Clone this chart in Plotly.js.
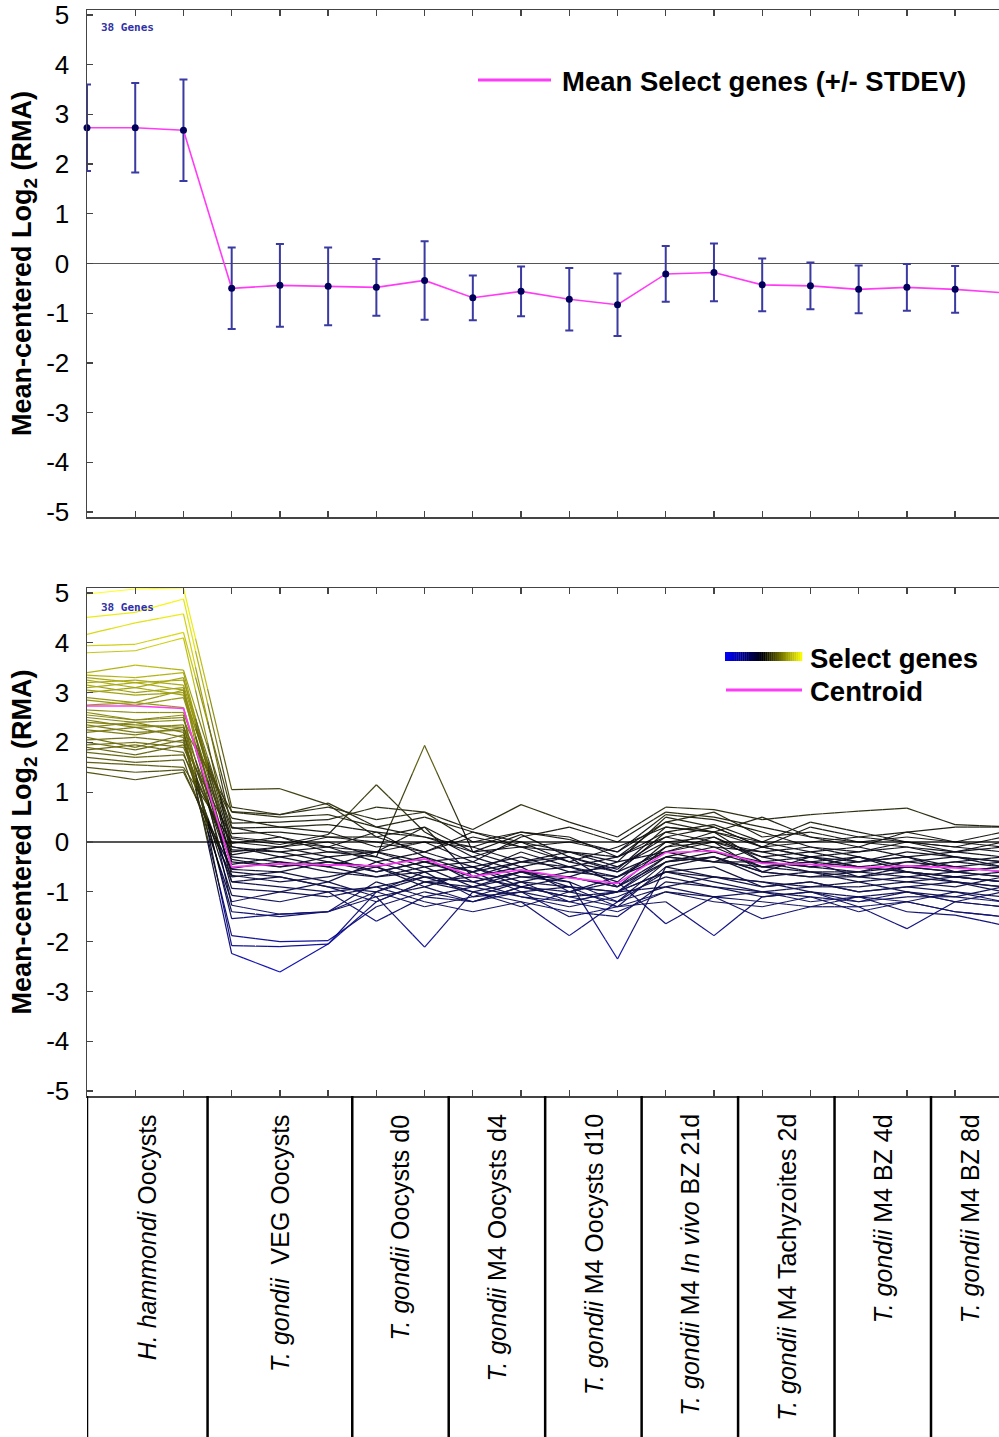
<!DOCTYPE html>
<html>
<head>
<meta charset="utf-8">
<script src="https://cdn.plot.ly/plotly-3.0.1.min.js"></script>
<style>
html,body{margin:0;padding:0;background:#ffffff;}
#chart{width:999px;height:1437px;}
</style>
</head>
<body>
<div id="chart"></div>
<script>
// ---------------- DATA ----------------
const sampleIndex = [0,1,2,3,4,5,6,7,8,9,10,11,12,13,14,15,16,17,18,19];

const groupLabels = [
  "<i>H. hammondi</i> Oocysts",
  "<i>T. gondii</i>\u00a0 VEG Oocysts",
  "<i>T. gondii</i> Oocysts d0",
  "<i>T. gondii</i> M4 Oocysts d4",
  "<i>T. gondii</i> M4 Oocysts d10",
  "<i>T. gondii</i> M4 <i>In vivo</i> BZ 21d",
  "<i>T. gondii</i> M4 Tachyzoites 2d",
  "<i>T. gondii</i> M4 BZ 4d",
  "<i>T. gondii</i> M4 BZ 8d"
];
const groupSizes = [3,3,2,2,2,2,2,2,2];

const meanValues  = [2.73, 2.73, 2.68, -0.50, -0.44, -0.46, -0.48, -0.34, -0.69, -0.56,
                     -0.72, -0.83, -0.21, -0.18, -0.43, -0.45, -0.52, -0.48, -0.52, -0.59];
const stdevValues = [0.87, 0.90, 1.02, 0.82, 0.83, 0.78, 0.57, 0.79, 0.45, 0.50,
                     0.63, 0.63, 0.56, 0.58, 0.53, 0.47, 0.48, 0.47, 0.47, 0.45];

const gene01 = [4.98,5.08,5.10, 1.05,1.07,0.75, 0.10,0.30, -0.20,0.15, -0.30,-0.55, 0.30,0.20, -0.10,0.00, 0.10,0.20, 0.30,0.30];
const gene02 = [4.51,4.61,4.88, 0.70,0.55,0.70, 0.45,0.60, 0.25,0.75, 0.40,0.10, 0.70,0.65, 0.45,0.55, 0.62,0.68, 0.35,0.31];
const gene03 = [4.17,4.40,4.58, 0.30,0.10,-0.10, 0.20,-0.30, -0.60,-0.20, -0.50,-0.80, 0.00,0.10, -0.30,-0.50, -0.40,-0.30, -0.60,-0.70];
const gene04 = [3.94,3.97,4.21, 0.60,0.50,0.55, 0.30,0.10, -0.10,-0.40, -0.20,-0.30, 0.20,0.00, -0.20,-0.10, -0.30,-0.50, -0.40,-0.50];
const gene05 = [3.80,3.84,4.10, -0.10,-0.20,-0.40, -0.50,-0.30, -0.80,-0.60, -0.90,-1.00, -0.40,-0.30, -0.60,-0.70, -0.70,-0.60, -0.80,-0.90];
const gene06 = [3.40,3.55,3.45, 0.38,0.40,0.45, 0.70,0.60, 0.00,0.20, 0.05,-0.20, 0.55,0.45, 0.20,-0.10, -0.20,0.00, -0.10,-0.20];
const gene07 = [3.35,3.30,3.40, -0.26,-0.10,0.00, -0.30,-0.60, -0.50,-0.90, -0.70,-0.40, -0.20,0.00, -0.60,-0.30, -0.50,-0.60, -0.70,-0.80];
const gene08 = [3.30,3.20,3.25, 0.17,0.20,0.10, 0.00,-0.20, 0.10,-0.10, -0.20,-0.50, 0.10,0.30, -0.10,-0.30, -0.40,-0.20, -0.30,-0.40];
const gene09 = [3.25,3.10,3.30, -0.40,-0.50,-0.30, -0.60,-0.40, -0.70,-0.50, -1.00,-0.70, -0.30,-0.10, -0.50,-0.60, -0.80,-0.70, -0.60,-0.50];
const gene10 = [3.20,3.25,3.15, 0.07,-0.05,0.15, 1.15,0.20, -0.30,0.00, -0.40,-0.60, 0.20,0.35, 0.00,-0.20, -0.10,-0.30, -0.20,-0.30];
const gene11 = [3.15,3.00,3.10, -0.80,-0.70,-0.90, -1.00,-0.60, -1.10,-0.80, -1.20,-1.00, -0.60,-0.50, -0.90,-0.80, -1.00,-0.90, -0.80,-1.00];
const gene12 = [3.10,3.20,3.05, -0.03,0.10,-0.20, -0.30,1.94, -0.20,-0.50, -0.30,-0.90, -0.10,0.20, -0.40,-0.50, -0.60,-0.40, -0.50,-0.60];
const gene13 = [3.05,2.95,3.00, -0.53,-0.40,-0.60, -0.70,-0.50, -0.90,-0.60, -0.80,-1.20, -0.40,-0.20, -0.50,-0.40, -0.70,-0.80, -0.90,-0.70];
const gene14 = [3.00,3.10,2.95, 0.28,0.30,0.20, -0.10,0.00, -0.40,0.10, 0.30,0.00, 0.60,0.50, 0.30,0.10, 0.00,-0.10, -0.20,-0.10];
const gene15 = [2.90,2.80,3.05, -1.27,-1.45,-1.40, -0.80,-1.10, -0.90,-1.10, -1.30,-1.10, -0.70,-0.90, -1.00,-1.20, -1.10,-1.00, -1.20,-1.30];
const gene16 = [2.85,2.75,2.90, -0.16,-0.20,-0.10, -0.40,-0.20, -0.50,-0.30, -0.60,-0.70, -0.20,0.10, -0.40,-0.30, -0.50,-0.40, -0.30,-0.50];
const gene17 = [2.75,2.80,2.70, -0.67,-0.80,-0.70, -0.50,-0.90, -0.60,-1.00, -0.90,-1.30, -0.50,-0.30, -0.70,-0.60, -0.60,-0.70, -0.80,-0.90];
const gene18 = [2.65,2.60,2.60, -0.09,-0.30,-0.20, -0.20,0.30, -0.70,-0.40, -0.50,-0.30, 0.10,-0.10, -0.20,-0.40, -0.30,-0.50, -0.40,-0.30];
const gene19 = [2.60,2.45,2.55, -2.08,-2.10,-2.05, -1.20,-0.80, -1.00,-1.20, -1.40,-1.50, -0.80,-0.90, -1.10,-1.00, -1.20,-1.10, -1.10,-1.20];
const gene20 = [2.55,2.45,2.50, -0.93,-1.00,-0.80, -1.10,-2.11, -1.00,-1.30, -1.00,-1.20, -0.60,-0.80, -1.00,-0.90, -0.80,-1.00, -1.10,-0.90];
const gene21 = [2.50,2.40,2.45, 0.48,0.30,0.35, 0.20,0.10, -0.20,-0.10, 0.00,-0.20, 0.40,0.60, 0.10,0.20, 0.00,0.10, 0.00,-0.10];
const gene22 = [2.45,2.30,2.35, -1.54,-1.45,-1.40, -1.10,-0.90, -1.20,-1.00, -1.50,-1.30, -1.00,-1.10, -1.20,-1.30, -1.30,-1.20, -1.40,-1.50];
const gene23 = [2.40,2.35,2.30, -0.30,-0.40,-0.50, -0.20,-0.50, -0.40,-0.70, -0.70,-0.90, -0.30,-0.40, -0.40,-0.60, -0.70,-0.50, -0.60,-0.50];
const gene24 = [2.35,2.20,2.25, -2.24,-2.61,-2.05, -1.00,-0.70, -0.80,-1.10, -1.20,-1.00, -0.90,-0.70, -0.80,-1.00, -1.10,-1.20, -1.00,-1.10];
const gene25 = [2.30,2.40,2.20, -0.60,-0.70,-0.90, -1.20,-0.80, -0.90,-0.70, -0.80,-2.35, -0.50,-0.70, -0.90,-0.80, -1.00,-0.90, -1.00,-1.20];
const gene26 = [2.25,2.15,2.30, 0.61,0.55,0.78, 0.30,0.50, 0.20,-0.10, -0.40,-0.10, 0.30,0.20, 0.00,0.40, 0.20,0.00, -0.10,0.10];
const gene27 = [2.20,2.30,2.10, -1.40,-1.50,-1.40, -1.00,-1.30, -1.10,-1.00, -1.20,-1.40, -1.00,-1.20, -1.30,-1.10, -1.40,-1.20, -1.40,-1.50];
const gene28 = [2.10,1.90,2.15, -0.45,-0.30,-0.50, -0.70,-0.60, -0.50,-0.80, -0.60,-0.50, 0.00,-0.20, -0.40,-0.50, -0.30,-0.60, -0.70,-0.60];
const gene29 = [2.05,2.10,2.00, -1.07,-1.20,-1.00, -0.90,-1.20, -1.40,-1.20, -1.88,-1.20, -0.90,-1.10, -1.00,-1.10, -1.20,-1.00, -1.20,-1.30];
const gene30 = [2.00,1.85,2.05, -1.88,-2.00,-1.98, -1.30,-1.00, -1.20,-0.90, -1.10,-1.30, -1.20,-1.88, -1.10,-1.00, -1.30,-1.74, -1.20,-1.00];
const gene31 = [1.95,2.00,1.90, -0.35,-0.50,-0.40, -0.60,-0.40, -0.30,-0.60, -0.50,-0.70, -0.10,0.00, -0.30,-0.20, -0.40,-0.30, -0.50,-0.40];
const gene32 = [1.90,1.75,1.95, 0.10,0.00,-0.10, -0.20,0.00, -0.10,0.20, 0.10,-0.30, 0.40,0.20, 0.50,0.10, -0.10,0.20, 0.00,0.20];
const gene33 = [1.85,1.95,1.80, -0.80,-0.90,-1.00, -1.59,-1.10, -1.20,-0.90, -1.00,-0.80, -1.64,-1.10, -1.54,-1.30, -1.10,-1.40, -1.47,-1.67];
const gene34 = [1.80,1.70,1.75, -0.20,-0.10,-0.30, -0.20,-0.40, -0.60,-0.40, -0.30,-0.60, -0.20,-0.40, -0.10,-0.30, -0.20,-0.10, -0.30,-0.40];
const gene35 = [1.70,1.60,1.65, -1.20,-1.00,-1.10, -0.90,-0.70, -1.00,-0.80, -0.90,-1.00, -0.60,-0.70, -0.80,-0.90, -0.90,-0.80, -0.70,-0.80];
const gene36 = [1.60,1.55,1.50, 0.00,-0.10,0.10, 0.10,-0.20, 0.20,0.00, -0.20,-0.40, 0.50,0.30, -0.10,0.30, 0.10,0.00, -0.20,0.00];
const gene37 = [1.50,1.40,1.45, -0.70,-0.60,-0.80, -0.40,-0.70, -0.80,-0.60, -0.70,-0.90, -0.40,-0.30, -0.60,-0.70, -0.60,-0.50, -0.60,-0.70];
const gene38 = [1.40,1.25,1.40, -0.55,-0.60,-0.40, -0.50,-0.80, -0.70,-0.90, -1.10,-1.00, -0.30,-0.40, -0.50,-0.40, -0.50,-0.60, -0.70,-0.80];

const yTickVals = [-5,-4,-3,-2,-1,0,1,2,3,4,5];
const yTickText = ["-5","-4","-3","-2","-1","0","1","2","3","4","5"];

const genes = [gene01,gene02,gene03,gene04,gene05,gene06,gene07,gene08,gene09,gene10,
               gene11,gene12,gene13,gene14,gene15,gene16,gene17,gene18,gene19,gene20,
               gene21,gene22,gene23,gene24,gene25,gene26,gene27,gene28,gene29,gene30,
               gene31,gene32,gene33,gene34,gene35,gene36,gene37,gene38];

// ---------------- STYLE / LAYOUT HELPERS ----------------
const W = 999, H = 1437;
const M = {l: 87, r: 0, t: 10, b: 341};
const plotW = W - M.l - M.r, plotH = H - M.t - M.b;
const px = v => (v - M.l) / plotW;          // pixel x -> paper x
const py = v => (H - M.b - v) / plotH;      // pixel y -> paper y
const xRange = [0, 18.91];
const yRange = [-5.1, 5.1];
const FONT = "Liberation Sans, Arial, Helvetica, sans-serif";
const MAGENTA = "#ff3cf5";

function valueColor(v) {
  if (v >= 0) {
    const c = Math.round(255 * Math.min(v / 5, 1));
    return "rgb(" + c + "," + c + ",0)";
  }
  const c = Math.round(255 * Math.min(-v / 3.5, 1));
  return "rgb(0,0," + c + ")";
}

// ---------------- TRACES ----------------
const traces = [];

// Top panel: mean +/- stdev
traces.push({
  type: "scatter", mode: "lines+markers", xaxis: "x", yaxis: "y",
  x: sampleIndex, y: meanValues, cliponaxis: false,
  line: {color: MAGENTA, width: 1.6},
  marker: {color: "#00005a", size: 7, symbol: "circle"},
  error_y: {type: "data", array: stdevValues, visible: true, color: "#3a3aa2", thickness: 2, width: 4},
  hoverinfo: "skip", showlegend: false
});

// Bottom panel: gene lines coloured by value (segments grouped into colour bins)
const bins = {};
const SUB = 4;
genes.forEach(g => {
  for (let i = 0; i < g.length - 1; i++) {
    for (let j = 0; j < SUB; j++) {
      const t0 = j / SUB, t1 = (j + 1) / SUB;
      const xa = sampleIndex[i] + (sampleIndex[i+1] - sampleIndex[i]) * t0;
      const xb = sampleIndex[i] + (sampleIndex[i+1] - sampleIndex[i]) * t1;
      const ya = g[i] + (g[i+1] - g[i]) * t0;
      const yb = g[i] + (g[i+1] - g[i]) * t1;
      const key = Math.round(((ya + yb) / 2) / 0.2) * 0.2;
      const k = key.toFixed(1);
      if (!bins[k]) bins[k] = {x: [], y: [], v: key};
      bins[k].x.push(xa, xb, null);
      bins[k].y.push(ya, yb, null);
    }
  }
});
Object.keys(bins).map(k => bins[k]).sort((a, b) => Math.abs(a.v) - Math.abs(b.v)).forEach(b => {
  traces.push({
    type: "scatter", mode: "lines", xaxis: "x2", yaxis: "y2",
    x: b.x, y: b.y, connectgaps: false,
    line: {color: valueColor(b.v), width: 1.2},
    opacity: 0.92, hoverinfo: "skip", showlegend: false
  });
});

// Centroid
traces.push({
  type: "scatter", mode: "lines", xaxis: "x2", yaxis: "y2",
  x: sampleIndex, y: meanValues,
  line: {color: MAGENTA, width: 1.6},
  hoverinfo: "skip", showlegend: false
});

// ---------------- AXES ----------------
const yTitle = {
  text: "Mean-centered Log<sub>2</sub> (RMA)",
  font: {family: FONT, size: 27, color: "#000", weight: "bold"},
  standoff: 6
};
function xAxis(anchor) {
  return {
    anchor: anchor, domain: [0, 1], range: xRange, fixedrange: true,
    tickmode: "array", tickvals: sampleIndex, showticklabels: false,
    ticks: "inside", ticklen: 6, tickwidth: 1.3, tickcolor: "#444",
    showline: true, linecolor: "#444", linewidth: 1.5, mirror: "ticks",
    showgrid: false, zeroline: false
  };
}
function yAxis(anchor, domain) {
  return {
    anchor: anchor, domain: domain, range: yRange, fixedrange: true,
    tickmode: "array", tickvals: yTickVals, ticktext: yTickText,
    ticks: "inside", ticklen: 6, tickwidth: 1.3, tickcolor: "#444",
    ticklabelstandoff: 11,
    tickfont: {family: FONT, size: 26, color: "#000"},
    showline: true, linecolor: "#444", linewidth: 1.5, mirror: false,
    showgrid: false, zeroline: true, zerolinecolor: "#555", zerolinewidth: 1.3,
    title: yTitle
  };
}

// ---------------- SHAPES & ANNOTATIONS ----------------
const shapes = [];
const annotations = [];

// group separators and labels below the lower panel
const bounds = [0];
let cum = 0;
groupSizes.forEach((n, i) => {
  cum += n;
  if (i < groupSizes.length - 1) bounds.push(sampleIndex[cum - 1] + 0.5);
});
bounds.forEach(b => {
  shapes.push({type: "line", xref: "x2", yref: "paper", x0: b, x1: b, y0: py(H + 5), y1: 0,
               line: {color: "#000", width: 2.5}});
});
groupLabels.forEach((lab, i) => {
  const left = bounds[i];
  const right = i < bounds.length - 1 ? bounds[i + 1] : xRange[1] + 0.2;
  annotations.push({
    xref: "x2", yref: "paper", x: (left + right) / 2, y: py(1112),
    xanchor: "center", yanchor: "top", textangle: -90, showarrow: false,
    text: lab, font: {family: FONT, size: 25, color: "#000"}
  });
});

// "38 Genes" notes
[27, 607].forEach(yy => {
  annotations.push({
    xref: "paper", yref: "paper", x: px(99), y: py(yy), xanchor: "left", yanchor: "middle",
    showarrow: false, text: genes.length + " Genes",
    font: {family: "DejaVu Sans Mono, monospace", size: 11, color: "#3030a8", weight: "bold"}
  });
});

// top legend
shapes.push({type: "line", xref: "paper", yref: "paper", x0: px(478), x1: px(551), y0: py(80), y1: py(80),
             line: {color: MAGENTA, width: 3}});
annotations.push({xref: "paper", yref: "paper", x: px(560), y: py(81), xanchor: "left", yanchor: "middle",
  showarrow: false, text: "Mean Select genes (+/- STDEV)",
  font: {family: FONT, size: 27.5, color: "#000", weight: "bold"}});

// bottom legend: gradient bar
const NSTEP = 40;
for (let i = 0; i < NSTEP; i++) {
  const v = -5 + 10 * (i + 0.5) / NSTEP;
  const c = v >= 0 ? Math.round(255 * v / 5) : Math.round(255 * -v / 5);
  const col = v >= 0 ? "rgb(" + c + "," + c + ",0)" : "rgb(0,0," + c + ")";
  const x0 = 725 + (802 - 725) * i / NSTEP, x1 = 725 + (802 - 725) * (i + 1) / NSTEP + 0.3;
  shapes.push({type: "rect", xref: "paper", yref: "paper", x0: px(x0), x1: px(x1), y0: py(661), y1: py(652),
               fillcolor: col, line: {width: 0}});
}
annotations.push({xref: "paper", yref: "paper", x: px(808), y: py(658), xanchor: "left", yanchor: "middle",
  showarrow: false, text: "Select genes",
  font: {family: FONT, size: 27.5, color: "#000", weight: "bold"}});
shapes.push({type: "line", xref: "paper", yref: "paper", x0: px(726), x1: px(802), y0: py(690), y1: py(690),
             line: {color: MAGENTA, width: 3}});
annotations.push({xref: "paper", yref: "paper", x: px(808), y: py(691), xanchor: "left", yanchor: "middle",
  showarrow: false, text: "Centroid",
  font: {family: FONT, size: 27.5, color: "#000", weight: "bold"}});

// ---------------- LAYOUT ----------------
const layout = {
  width: W, height: H,
  margin: M,
  paper_bgcolor: "#ffffff", plot_bgcolor: "#ffffff",
  font: {family: FONT, color: "#000"},
  showlegend: false,
  xaxis: xAxis("y"),
  yaxis: yAxis("x", [py(517), 1]),
  xaxis2: xAxis("y2"),
  yaxis2: yAxis("x2", [0, py(588)]),
  shapes: shapes,
  annotations: annotations
};

Plotly.newPlot("chart", traces, layout, {staticPlot: true, displayModeBar: false});
</script>
</body>
</html>
